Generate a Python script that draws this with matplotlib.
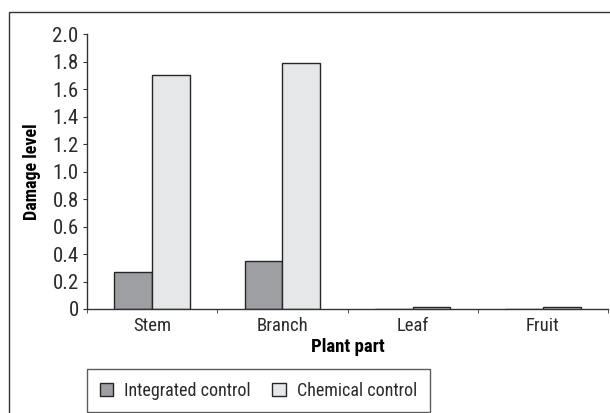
import matplotlib.pyplot as plt
import matplotlib.font_manager as fm
import numpy as np
from matplotlib.patches import Rectangle

# Data
parts = ['Stem', 'Branch', 'Leaf', 'Fruit']
integrated = [0.27, 0.35, 0.0, 0.0]
chemical = [1.70, 1.79, 0.012, 0.012]
series_names = ['Integrated control', 'Chemical control']

# narrow sans, close to the condensed Helvetica of the original
names = {f.name for f in fm.fontManager.ttflist}
font = next((n for n in ['Roboto Condensed', 'Archivo Narrow', 'PT Sans Narrow',
                         'Liberation Sans Narrow'] if n in names), 'DejaVu Sans')
plt.rcParams['font.family'] = [font, 'DejaVu Sans']

fig = plt.figure(figsize=(6.1, 4.13), dpi=100)
ax = fig.add_axes([87 / 610, 1 - 309 / 413, 521 / 610, 275 / 413])

# outer frame, cut off at the right and bottom like the reference
fig.patches.append(Rectangle((9 / 610, -0.05), 1.1, 1 - 12 / 413 + 0.05,
                             transform=fig.transFigure, fill=False,
                             edgecolor='#333333', linewidth=1.0))

x = np.arange(len(parts))
w = 0.29
ax.bar(x - w / 2, integrated, width=w, color='#9e9fa3', edgecolor='#262626',
       linewidth=1.0, label=series_names[0])
ax.bar(x + w / 2, chemical, width=w, color='#e6e7e9', edgecolor='#262626',
       linewidth=1.0, label=series_names[1])

ax.set_xlim(-0.5, len(parts) - 0.5)
ax.set_ylim(0, 2.0)
ax.set_yticks(np.arange(0, 2.01, 0.2))
ax.set_yticklabels(['0'] + ['%.1f' % v for v in np.arange(0.2, 2.01, 0.2)])
ax.set_xticks(x)
ax.set_xticklabels(parts)
ax.set_xticks(np.arange(-0.5, len(parts)), minor=True)
ax.tick_params(axis='x', which='major', length=0, labelsize=13.5, pad=6, labelcolor='#2a2a2a')
ax.tick_params(axis='x', which='minor', length=3, direction='out', color='#333333')
ax.tick_params(axis='y', length=3, direction='out', labelsize=15, color='#333333',
               pad=3, labelcolor='#2a2a2a')

for s in ['top', 'right']:
    ax.spines[s].set_visible(False)
for s in ['left', 'bottom']:
    ax.spines[s].set_color('#333333')
    ax.spines[s].set_linewidth(1.0)

ax.set_ylabel('Damage level', fontsize=13, fontweight='bold', labelpad=8)
ax.set_xlabel('Plant part', fontsize=13.5, fontweight='bold', labelpad=2)

leg = ax.legend(loc='upper left', bbox_to_anchor=(87 / 610, 1 - 369 / 413),
                bbox_transform=fig.transFigure, borderaxespad=0, ncol=2,
                frameon=True, fancybox=False, handlelength=0.75,
                handleheight=0.75, handletextpad=0.6, columnspacing=1.2,
                borderpad=0.7, prop={'size': 13})
for t in leg.get_texts():
    t.set_color('#2a2a2a')
leg.get_frame().set_edgecolor('#333333')
leg.get_frame().set_linewidth(1.0)

fig.savefig('out.png', dpi=100)
